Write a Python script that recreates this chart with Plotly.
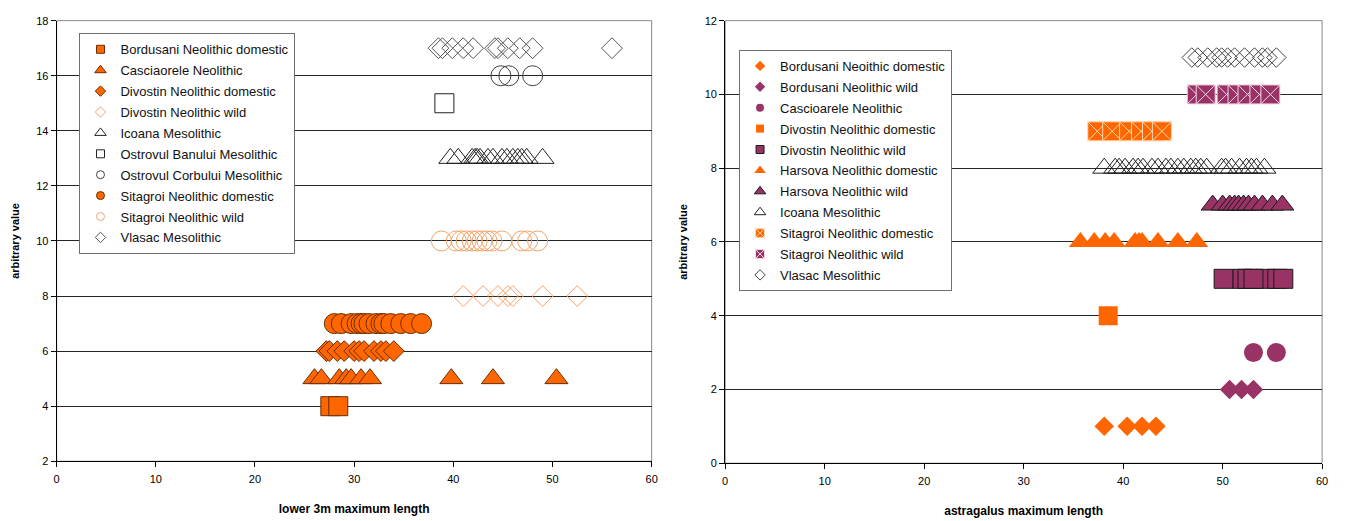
import plotly.graph_objects as go

# ---------------- Left chart: lower 3m maximum length ----------------
L_names = ["Bordusani Neolithic domestic", "Casciaorele Neolithic", "Divostin Neolithic domestic",
           "Divostin Neolithic wild", "Icoana Mesolithic", "Ostrovul Banului Mesolithic",
           "Ostrovul Corbului Mesolithic", "Sitagroi Neolithic domestic", "Sitagroi Neolithic wild",
           "Vlasac Mesolithic"]
L_levels = [4, 5, 6, 8, 13, 15, 16, 7, 10, 17]
L_bordusani_dom = [27.6, 28.4]
L_casciaorele = [26.0, 26.7, 28.5, 29.2, 29.7, 30.7, 31.6, 39.8, 44.0, 50.4]
L_divostin_dom = [27.2, 27.5, 28.3, 29.0, 30.0, 30.5, 31.0, 32.0, 32.7, 33.2, 34.0]
L_divostin_wild = [41.0, 43.0, 44.5, 45.5, 46.0, 49.0, 52.5]
L_icoana = [39.7, 40.5, 41.9, 42.2, 42.4, 42.7, 43.5, 44.0, 44.9, 45.4, 46.0, 46.5, 46.9, 47.4, 49.0]
L_ostrovul_banului = [39.1]
L_ostrovul_corbului = [44.8, 45.6, 48.0]
L_sitagroi_dom = [28.0, 28.7, 29.7, 30.3, 30.7, 31.0, 31.5, 32.2, 32.7, 33.0, 33.7, 34.7, 35.7, 36.8]
L_sitagroi_wild = [38.8, 40.3, 40.8, 41.3, 41.9, 42.4, 42.9, 43.4, 43.9, 44.9, 46.9, 47.5, 48.5]
L_vlasac = [38.5, 38.9, 39.9, 41.0, 42.0, 44.2, 44.5, 45.5, 46.7, 48.0, 56.0]
L_values = [L_bordusani_dom, L_casciaorele, L_divostin_dom, L_divostin_wild, L_icoana,
            L_ostrovul_banului, L_ostrovul_corbului, L_sitagroi_dom, L_sitagroi_wild, L_vlasac]

# ---------------- Right chart: astragalus maximum length ----------------
R_names = ["Bordusani Neoithic domestic", "Bordusani Neolithic wild", "Cascioarele Neolithic",
           "Divostin Neolithic domestic", "Divostin Neolithic wild", "Harsova Neolithic domestic",
           "Harsova Neolithic wild", "Icoana Mesolithic", "Sitagroi Neolithic domestic",
           "Sitagroi Neolithic wild", "Vlasac Mesolithic"]
R_levels = [1, 2, 3, 4, 5, 6, 7, 8, 9, 10, 11]
R_bordusani_dom = [38.1, 40.4, 41.9, 43.3]
R_bordusani_wild = [50.7, 51.9, 53.1]
R_cascioarele = [53.1, 55.4]
R_divostin_dom = [38.5]
R_divostin_wild = [54.3, 50.1, 52.0, 52.5, 53.1, 55.5, 56.1]
R_harsova_dom = [35.7, 37.1, 38.2, 39.1, 41.2, 41.6, 41.9, 43.5, 45.5, 47.4]
R_harsova_wild = [49.0, 50.0, 50.7, 51.2, 51.6, 52.1, 52.6, 53.2, 54.0, 55.0, 56.0]
R_icoana = [38.1, 39.2, 39.6, 40.2, 41.0, 41.5, 42.0, 42.9, 43.5, 44.3, 44.8, 45.5, 46.1,
            46.8, 47.3, 47.8, 48.4, 49.9, 50.3, 50.9, 51.7, 52.4, 52.9, 53.4, 54.2]
R_sitagroi_dom = [37.4, 38.9, 40.6, 41.8, 42.9, 43.9]
R_sitagroi_wild = [47.4, 48.3, 50.4, 51.5, 52.5, 53.7, 54.8]
R_vlasac = [46.9, 47.5, 48.5, 49.4, 49.9, 50.5, 51.2, 52.2, 53.2, 54.0, 54.5, 55.4]
R_values = [R_bordusani_dom, R_bordusani_wild, R_cascioarele, R_divostin_dom, R_divostin_wild,
            R_harsova_dom, R_harsova_wild, R_icoana, R_sitagroi_dom, R_sitagroi_wild, R_vlasac]

x_ticks = [0, 10, 20, 30, 40, 50, 60]
L_y_ticks = [2, 4, 6, 8, 10, 12, 14, 16, 18]
R_y_ticks = [0, 2, 4, 6, 8, 10, 12]

ORANGE = "#FF6600"
DARK = "#6B2C00"
LIGHT_OR = "#F5A36A"
PURPLE = "#993366"
GREY = "#444444"
NONE = "rgba(255,255,255,0)"

# styles (symbol, size, fill, line color, line width)
L_styles = [
    ("square", 19, ORANGE, DARK, 1),
    ("triangle-up", 20, ORANGE, DARK, 1),
    ("diamond", 16, ORANGE, DARK, 1),
    ("diamond", 16, NONE, LIGHT_OR, 1),
    ("triangle-up", 20, NONE, "#222222", 1),
    ("square", 19, NONE, "#222222", 1),
    ("circle", 20, NONE, GREY, 1),
    ("circle", 20, ORANGE, DARK, 1),
    ("circle", 20, NONE, LIGHT_OR, 1),
    ("diamond", 16, NONE, "#555555", 1),
]
R_styles = [
    ("diamond", 15, ORANGE, ORANGE, 0),
    ("diamond", 15, PURPLE, PURPLE, 0),
    ("circle", 19, PURPLE, PURPLE, 0),
    ("square", 19, ORANGE, ORANGE, 0),
    ("square", 19, PURPLE, "#1a1a1a", 1),
    ("triangle-up", 20, ORANGE, ORANGE, 0),
    ("triangle-up", 20, PURPLE, "#1a1a1a", 1),
    ("triangle-up", 20, NONE, "#222222", 1),
    ("square-x", 19, ORANGE, "#FFD9B0", 1),
    ("square-x", 19, PURPLE, "#F3D6E5", 1),
    ("diamond", 15, NONE, "#444444", 1),
]
LEG_SIZE = {"square": 8, "square-x": 9, "triangle-up": 10, "diamond": 8, "circle": 8}

fig = go.Figure()


def add_series(names, levels, values, styles, xa, ya, leg, prefix):
    for i, (name, lvl, xs, st) in enumerate(zip(names, levels, values, styles)):
        sym, size, fill, lc, lw = st
        grp = "%s%d" % (prefix, i)
        fig.add_trace(go.Scatter(
            x=xs, y=[lvl] * len(xs), mode="markers", name=name, showlegend=False,
            marker=dict(symbol=sym, size=size, color=fill, line=dict(color=lc, width=lw)),
            xaxis=xa, yaxis=ya, legend=leg, legendgroup=grp))
        # legend entry (no data drawn) with small symbol like the original
        fig.add_trace(go.Scatter(
            x=[None], y=[None], mode="markers", name=name, showlegend=True,
            marker=dict(symbol=sym, size=LEG_SIZE[sym], color=fill,
                        line=dict(color=lc, width=lw)),
            xaxis=xa, yaxis=ya, legend=leg, legendgroup=grp))


add_series(L_names, L_levels, L_values, L_styles, "x", "y", "legend", "L")
add_series(R_names, R_levels, R_values, R_styles, "x2", "y2", "legend2", "R")

W, H = 1347, 521
TICKFONT = dict(family="Arial, Liberation Sans", size=11, color="#000")
TITLEFONT = dict(family="Arial, Liberation Sans", size=12, color="#000", weight="bold")


def xax(domain, title, anchor):
    return dict(domain=domain, range=[0, 60], tickvals=x_ticks, showgrid=False, zeroline=False,
                showline=True, linecolor="#000", linewidth=1, ticks="outside", ticklen=5,
                tickcolor="#000", tickfont=TICKFONT, anchor=anchor, ticklabelstandoff=3,
                title=dict(text=title, font=TITLEFONT, standoff=20))


def yax(domain, rng, ticks, anchor):
    return dict(domain=domain, range=rng, tickvals=ticks, showgrid=True, gridcolor="#262626",
                gridwidth=1, zeroline=False, showline=True, linecolor="#000", linewidth=1,
                ticks="outside", ticklen=5, tickcolor="#000", tickfont=TICKFONT, anchor=anchor,
                title=dict(text="arbitrary value", font=dict(TITLEFONT, size=11), standoff=14))


legend_common = dict(bgcolor="#fff", bordercolor="#707070", borderwidth=1,
                     font=dict(family="Arial, Liberation Sans", size=13, color="#111"),
                     itemsizing="trace", traceorder="grouped", tracegroupgap=1,
                     itemwidth=30, xanchor="left", yanchor="top")

fig.update_layout(
    width=W, height=H, margin=dict(l=0, r=0, t=0, b=0),
    paper_bgcolor="#fff", plot_bgcolor="#fff", showlegend=True,
    xaxis=xax([54 / W, 653 / W], "lower 3m maximum length", "y"),
    yaxis=yax([1 - 466 / H, 1 - 15 / H], [2, 18], L_y_ticks, "x"),
    xaxis2=xax([727 / W, 1328 / W], "astragalus maximum length", "y2"),
    yaxis2=yax([1 - 468 / H, 1 - 15 / H], [0, 12], R_y_ticks, "x2"),
    legend=dict(legend_common, x=77 / W, y=1 - 28 / H),
    legend2=dict(legend_common, x=741 / W, y=1 - 45 / H),
    shapes=[
        dict(type="rect", xref="x domain", yref="y domain", x0=0, x1=1, y0=0, y1=1,
             line=dict(color="#8a8a8a", width=1), layer="below"),
        dict(type="rect", xref="x2 domain", yref="y2 domain", x0=0, x1=1, y0=0, y1=1,
             line=dict(color="#8a8a8a", width=1), layer="below"),
    ],
)

fig.write_html("out.html")
